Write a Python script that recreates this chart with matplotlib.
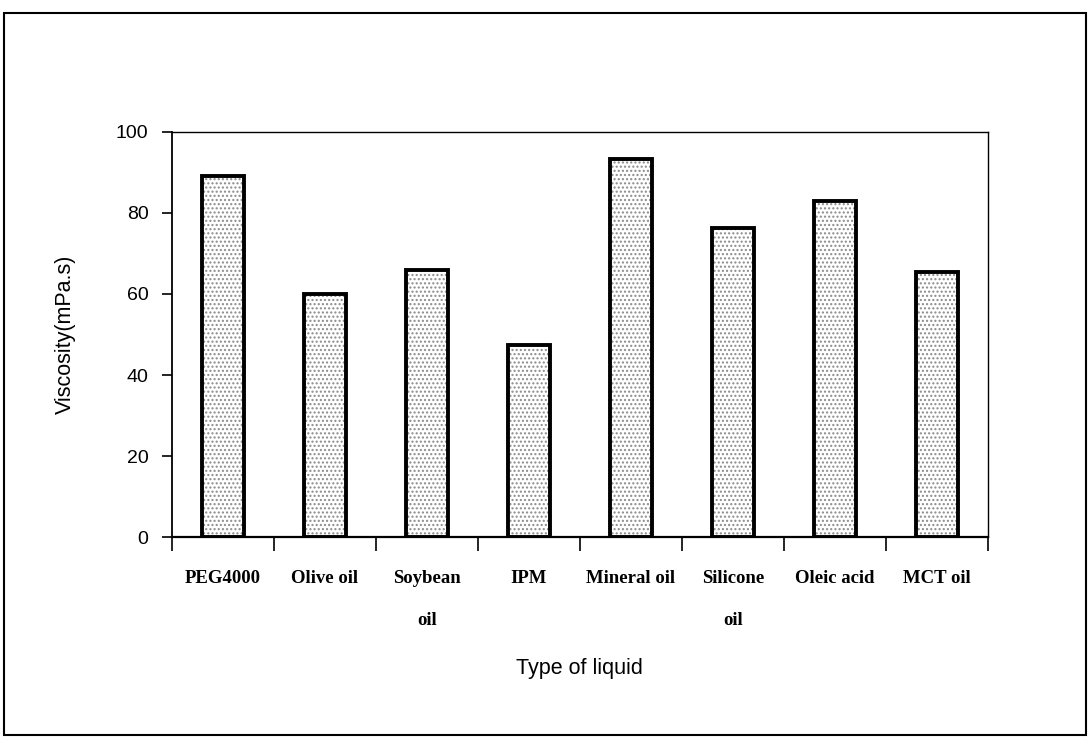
import numpy as np
import matplotlib.pyplot as plt
from matplotlib.patches import Rectangle

# data
liquids = ["PEG4000", "Olive oil", "Soybean\noil", "IPM", "Mineral oil",
           "Silicone\noil", "Oleic acid", "MCT oil"]
viscosity = [89.2, 60.1, 66.0, 47.5, 93.3, 76.4, 83.0, 65.5]
yticks = [0, 20, 40, 60, 80, 100]

fig = plt.figure(figsize=(10.89, 7.45), dpi=100)
ax = fig.add_axes([0.158, 0.279, 0.749, 0.544])

x = np.arange(len(liquids))
# dotted fill first, then the thick black outline on top
ax.bar(x, viscosity, width=0.41, color="white", edgecolor="#8a8a8a",
       hatch="....", linewidth=0, zorder=2)
ax.bar(x, viscosity, width=0.41, color="none", edgecolor="black",
       linewidth=2.8, zorder=3)

ax.set_xlim(-0.5, len(liquids) - 0.5)
ax.set_ylim(0, 100)
ax.set_yticks(yticks)
ax.set_yticklabels([str(v) for v in yticks], fontsize=14, family="Liberation Sans")
ax.tick_params(axis="y", direction="out", length=7, width=1.2, pad=10)

# labels centred under the bars, ticks on the category boundaries
ax.set_xticks(x)
ax.set_xticklabels(liquids, fontsize=13.5, family="Liberation Serif", weight="bold",
                   linespacing=2.85, va="top")
ax.tick_params(axis="x", which="major", length=0, pad=24)
ax.set_xticks(np.arange(-0.5, len(liquids)), minor=True)
ax.tick_params(axis="x", which="minor", direction="out", length=10, width=1.2)

ax.spines["left"].set_linewidth(1.3)
ax.spines["bottom"].set_linewidth(1.6)
ax.spines["top"].set_linewidth(1.0)
ax.spines["right"].set_linewidth(1.0)

ax.set_xlabel("Type of liquid", fontsize=15.5, family="Liberation Sans", va="center")
ax.xaxis.set_label_coords(0.5, -0.323)
ax.set_ylabel("Viscosity(mPa.s)", fontsize=15.5, family="Liberation Sans", va="center")
ax.yaxis.set_label_coords(-0.131, 0.5)

# page frame of the scan
fig.patches.append(Rectangle((0.004, 0.013), 0.993, 0.97, transform=fig.transFigure,
                             fill=False, edgecolor="black", linewidth=1.5))

fig.savefig("out.png", dpi=100)
